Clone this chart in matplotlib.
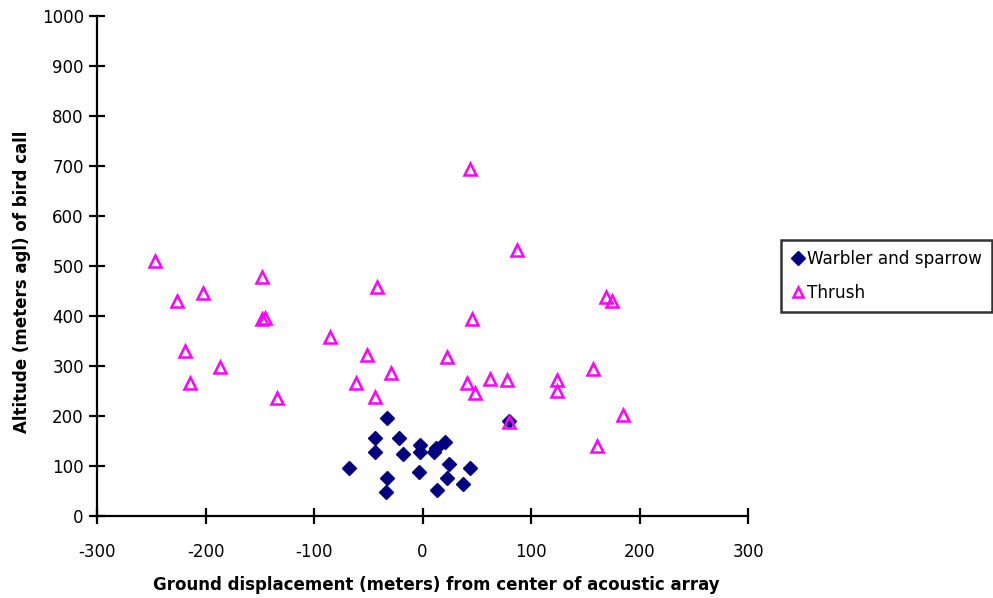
import matplotlib.pyplot as plt
import numpy as np

plt.rcParams['font.family'] = ['DejaVu Sans']
plt.rcParams['axes.unicode_minus'] = False

# Warbler and sparrow calls (x: ground displacement m, y: altitude m)
warbler_x = [-33, -44, -22, -44, -18, -2, -2, 12, 11, 21, -68, -3, 24, 44, -33, 23, -34, 13, 37, 80]
warbler_y = [197, 157, 157, 129, 125, 142, 129, 137, 129, 149, 97, 89, 105, 97, 77, 76, 49, 53, 65, 190]

# Thrush calls
thrush_x = [-246.5, -226.5, -202, -148, -148, -145, -219, -187, -214, -134,
            -85, -51, -61, -42, -29, -44, 23, 41, 44, 46, 48, 62.5, 78, 79.5,
            87, 124, 124, 157, 160.5, 169, 175, 184.5]
thrush_y = [511, 431, 447, 479, 395, 397, 331, 299, 267, 237,
            359, 323, 267, 459, 287, 239, 319, 267, 694, 395, 247, 275, 272, 189,
            533, 272, 251, 295, 140, 439, 431, 203]

fig = plt.figure(figsize=(9.93, 5.98), dpi=100)
ax = fig.add_axes([0.0977, 0.1371, 0.6556, 0.8361])

ax.plot(warbler_x, warbler_y, linestyle='none', marker='D', markersize=7.5,
        color='#000080', label='Warbler and sparrow')
ax.plot(thrush_x, thrush_y, linestyle='none', marker='^', markersize=8.5,
        markerfacecolor='none', markeredgecolor='#ff00ff', markeredgewidth=1.8,
        label='Thrush')

ax.set_xlim(-300, 300)
ax.set_ylim(0, 1000)
ax.set_xticks(np.arange(-300, 301, 100))
ax.set_yticks(np.arange(0, 1001, 100))
ax.spines['top'].set_visible(False)
ax.spines['right'].set_visible(False)
ax.spines['left'].set_linewidth(1.6)
ax.spines['bottom'].set_linewidth(1.6)
ax.tick_params(axis='both', direction='inout', length=11, width=1.6,
               labelsize=12, colors='black')
ax.tick_params(axis='x', pad=14)
ax.tick_params(axis='y', pad=4)

# axis titles placed where the reference has them
fig.text(0.439, 0.022, 'Ground displacement (meters) from center of acoustic array',
         ha='center', va='center', fontsize=12, fontweight='bold')
fig.text(0.022, 0.528, 'Altitude (meters agl) of bird call', rotation=90,
         ha='center', va='center', fontsize=12, fontweight='bold')

leg = fig.legend(loc='upper left', bbox_to_anchor=(0.7865, 0.5987), fontsize=12.2,
                 frameon=True, fancybox=False, edgecolor='black',
                 handletextpad=0.15, handlelength=0.8, borderpad=0.6,
                 labelspacing=0.95, borderaxespad=0, markerscale=0.9)
leg.get_frame().set_linewidth(1.8)

fig.savefig('out.png', dpi=100)
